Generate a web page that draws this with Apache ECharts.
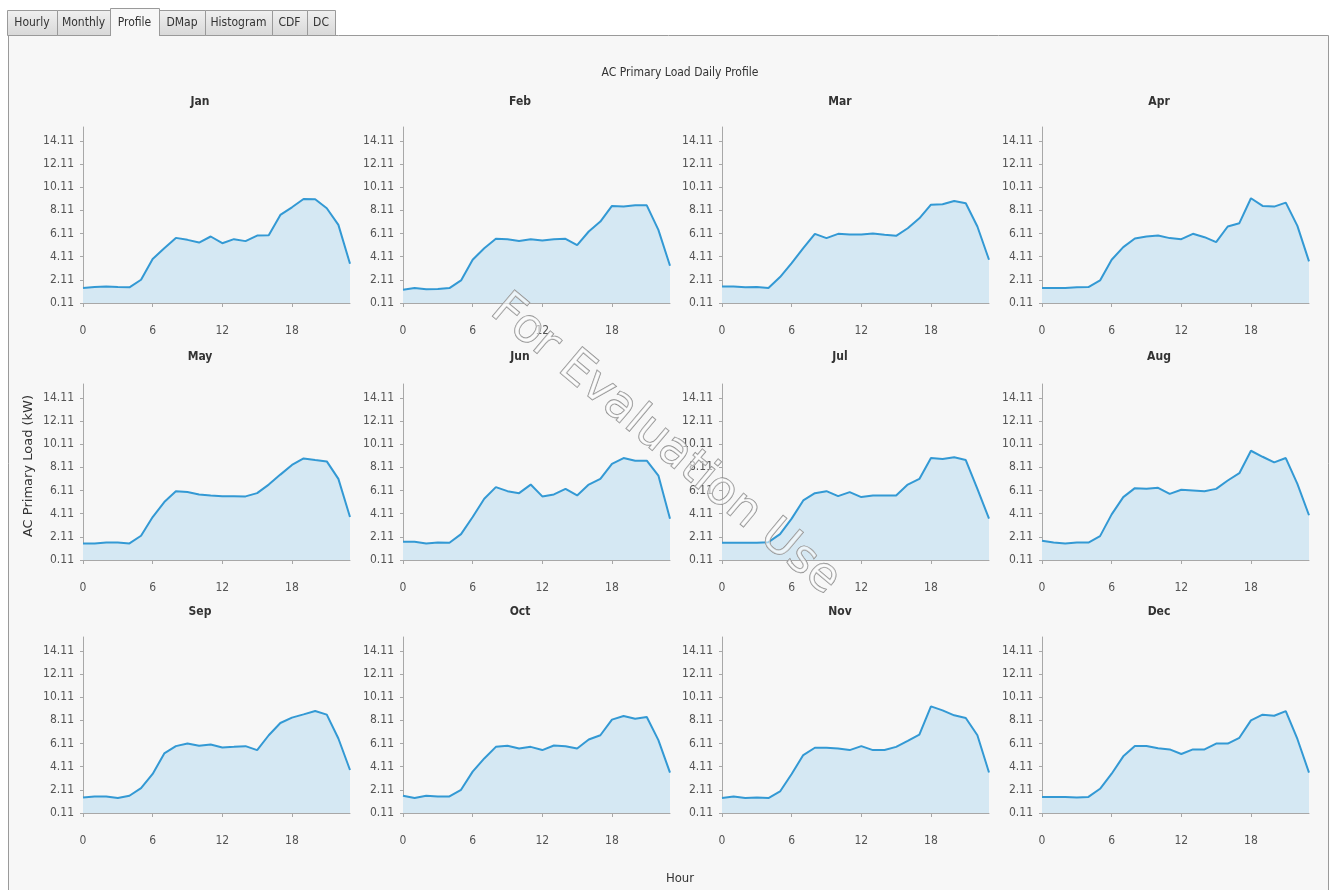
<!DOCTYPE html>
<html>
<head>
<meta charset="utf-8">
<script src="https://cdn.jsdelivr.net/npm/echarts@6/dist/echarts.min.js"></script>
<style>
  html, body { margin: 0; padding: 0; background: #fff; }
  #chart { width: 1331px; height: 890px; }
</style>
</head>
<body>
<div id="chart"></div>
<script>
// hourly profiles (kW)
const months = ['Jan', 'Feb', 'Mar', 'Apr', 'May', 'Jun', 'Jul', 'Aug', 'Sep', 'Oct', 'Nov', 'Dec'];
const hours = [0, 1, 2, 3, 4, 5, 6, 7, 8, 9, 10, 11, 12, 13, 14, 15, 16, 17, 18, 19, 20, 21, 22, 23];
const jan = [1.40, 1.49, 1.54, 1.49, 1.46, 2.12, 3.90, 4.84, 5.73, 5.56, 5.33, 5.85, 5.27, 5.62, 5.45, 5.93, 5.96, 7.71, 8.37, 9.09, 9.06, 8.29, 6.85, 3.50];
const feb = [1.26, 1.40, 1.29, 1.31, 1.40, 2.06, 3.84, 4.84, 5.65, 5.62, 5.47, 5.62, 5.50, 5.62, 5.65, 5.10, 6.28, 7.14, 8.49, 8.43, 8.54, 8.54, 6.42, 3.32];
const mar = [1.54, 1.54, 1.46, 1.49, 1.40, 2.35, 3.55, 4.84, 6.08, 5.71, 6.08, 6.02, 6.02, 6.11, 6.00, 5.91, 6.56, 7.42, 8.60, 8.63, 8.92, 8.72, 6.71, 3.84];
const apr = [1.40, 1.40, 1.40, 1.46, 1.49, 2.06, 3.84, 4.93, 5.68, 5.85, 5.93, 5.71, 5.62, 6.08, 5.79, 5.36, 6.71, 7.00, 9.15, 8.49, 8.43, 8.77, 6.77, 3.70];
const may = [1.54, 1.54, 1.62, 1.62, 1.54, 2.20, 3.82, 5.11, 6.05, 5.97, 5.77, 5.68, 5.62, 5.62, 5.60, 5.88, 6.62, 7.48, 8.31, 8.88, 8.74, 8.62, 7.11, 3.82];
const jun = [1.68, 1.68, 1.54, 1.62, 1.60, 2.34, 3.82, 5.40, 6.40, 6.05, 5.88, 6.62, 5.60, 5.77, 6.25, 5.68, 6.62, 7.11, 8.40, 8.91, 8.68, 8.68, 7.40, 3.68];
const jul = [1.60, 1.60, 1.60, 1.60, 1.65, 2.34, 3.68, 5.25, 5.88, 6.05, 5.62, 5.97, 5.54, 5.68, 5.68, 5.68, 6.62, 7.11, 8.91, 8.82, 8.97, 8.74, 6.25, 3.68];
const aug = [1.77, 1.62, 1.54, 1.62, 1.62, 2.17, 4.05, 5.54, 6.31, 6.25, 6.34, 5.82, 6.17, 6.11, 6.05, 6.25, 6.97, 7.60, 9.54, 9.02, 8.54, 8.91, 6.68, 3.97];
const sep = [1.45, 1.54, 1.54, 1.40, 1.60, 2.25, 3.48, 5.25, 5.88, 6.11, 5.91, 6.02, 5.77, 5.82, 5.88, 5.54, 6.82, 7.88, 8.34, 8.62, 8.91, 8.60, 6.54, 3.82];
const oct = [1.60, 1.40, 1.60, 1.54, 1.54, 2.11, 3.68, 4.82, 5.82, 5.91, 5.68, 5.82, 5.54, 5.94, 5.88, 5.68, 6.45, 6.82, 8.17, 8.48, 8.25, 8.40, 6.40, 3.60];
const nov = [1.40, 1.54, 1.40, 1.45, 1.40, 1.97, 3.48, 5.11, 5.74, 5.74, 5.68, 5.54, 5.88, 5.54, 5.54, 5.82, 6.34, 6.88, 9.31, 8.97, 8.54, 8.31, 6.82, 3.60];
const dec = [1.50, 1.50, 1.50, 1.45, 1.50, 2.20, 3.50, 5.00, 5.90, 5.90, 5.70, 5.60, 5.20, 5.60, 5.60, 6.10, 6.10, 6.60, 8.10, 8.60, 8.50, 8.90, 6.50, 3.60];
const profiles = [jan, feb, mar, apr, may, jun, jul, aug, sep, oct, nov, dec];
const yTicks = [0.11, 2.11, 4.11, 6.11, 8.11, 10.11, 12.11, 14.11];
const xTicks = [0, 6, 12, 18];
const tabs = ['Hourly', 'Monthly', 'Profile', 'DMap', 'Histogram', 'CDF', 'DC'];

const dom = document.getElementById('chart');
const myChart = echarts.init(dom, null, { renderer: 'canvas' });

const labelFont = "'Liberation Sans Narrow', 'DejaVu Sans Condensed', sans-serif";
const colLeft = [83, 403, 722, 1042];
const rowTop = [127, 384, 637];
const titleX = [200, 520, 840, 1159];
const titleY = [102, 357, 612];

let grids = [], xAxes = [], yAxes = [], series = [], graphics = [];

// panel frame + tabs
graphics.push({
    type: 'rect', z: 0, silent: true,
    shape: { x: 8.5, y: 35.5, width: 1320, height: 870 },
    style: { fill: '#f7f7f7', stroke: '#9a9a9a', lineWidth: 1 }
});
const tabEdges = [7, 57, 110, 159, 205, 272, 307, 335];
tabs.forEach((t, i) => {
    const sel = t === 'Profile';
    graphics.push({
        type: 'rect', z: 1, silent: true,
        shape: { x: tabEdges[i] + 0.5, y: sel ? 8.5 : 10.5, width: tabEdges[i + 1] - tabEdges[i], height: sel ? 28 : 25 },
        style: sel ? { fill: '#f7f7f7', stroke: '#f7f7f7' } : {
            fill: new echarts.graphic.LinearGradient(0, 0, 0, 1, [
                { offset: 0, color: '#f0f0f0' },
                { offset: 1, color: '#d8d8d8' }
            ]),
            stroke: '#9a9a9a', lineWidth: 1
        }
    });
    graphics.push({
        type: 'text', z: 2, silent: true,
        x: (tabEdges[i] + tabEdges[i + 1]) / 2, y: 23,
        style: { text: t, fill: '#333', font: '12px ' + labelFont, align: 'center', verticalAlign: 'middle' }
    });
});
// redraw the edges of the selected tab
graphics.push({
    type: 'polyline', z: 3, silent: true,
    shape: { points: [[110.5, 36], [110.5, 8.5], [159.5, 8.5], [159.5, 36]] },
    style: { stroke: '#9a9a9a', fill: null, lineWidth: 1 }
});

profiles.forEach((vals, i) => {
    const r = Math.floor(i / 4), c = i % 4;
    grids.push({ left: colLeft[c], top: rowTop[r], width: 267, height: 176 });
    xAxes.push({
        type: 'value', gridIndex: i, min: 0, max: 23,
        splitLine: { show: false },
        axisLine: { lineStyle: { color: '#a8a8a8' } },
        axisTick: { length: 4, lineStyle: { color: '#a8a8a8' }, customValues: xTicks },
        axisLabel: { customValues: xTicks, margin: 22, color: '#555', fontSize: 12, fontFamily: labelFont }
    });
    yAxes.push({
        type: 'value', gridIndex: i, min: 0.11, max: 15.3,
        splitLine: { show: false },
        axisLine: { show: true, lineStyle: { color: '#a8a8a8' } },
        axisTick: { show: true, length: 3, lineStyle: { color: '#a8a8a8' }, customValues: yTicks },
        axisLabel: {
            customValues: yTicks, margin: 9, color: '#555', fontSize: 12, fontFamily: labelFont,
            formatter: v => v.toFixed(2)
        }
    });
    series.push({
        type: 'line', xAxisIndex: i, yAxisIndex: i,
        data: hours.map((h, k) => [h, vals[k]]),
        showSymbol: false,
        lineStyle: { color: '#3399d4', width: 2 },
        itemStyle: { color: '#3399d4' },
        areaStyle: { color: '#d5e8f3', opacity: 1 }
    });
    graphics.push({
        type: 'text', z: 5, silent: true,
        x: titleX[c], y: titleY[r],
        style: { text: months[i], fill: '#333', font: '600 12px ' + labelFont, align: 'center', verticalAlign: 'middle' }
    });
});

graphics.push({
    type: 'text', z: 5, silent: true, x: 680, y: 73,
    style: { text: 'AC Primary Load Daily Profile', fill: '#333', font: '12px ' + labelFont, align: 'center', verticalAlign: 'middle' }
});
graphics.push({
    type: 'text', z: 5, silent: true, x: 680, y: 879,
    style: { text: 'Hour', fill: '#333', font: '13px ' + labelFont, align: 'center', verticalAlign: 'middle' }
});
graphics.push({
    type: 'text', z: 5, silent: true, x: 29, y: 466, rotation: Math.PI / 2,
    style: { text: 'AC Primary Load (kW)', fill: '#333', font: '13px "DejaVu Sans", sans-serif', align: 'center', verticalAlign: 'middle' }
});
// watermark
graphics.push({
    type: 'text', z: 100, silent: true, x: 665, y: 445, rotation: -40 * Math.PI / 180,
    style: {
        text: 'For Evaluation Use', font: '47px "DejaVu Sans", sans-serif',
        fill: 'rgba(255,255,255,0.55)', stroke: '#8a8a8a', lineWidth: 1.2,
        align: 'center', verticalAlign: 'middle'
    }
});

const option = {
    backgroundColor: '#ffffff',
    animation: false,
    grid: grids,
    xAxis: xAxes,
    yAxis: yAxes,
    series: series,
    graphic: graphics
};
myChart.setOption(option);

window.addEventListener('resize', () => {
    setTimeout(() => {
        myChart.resize();
    }, 10);
});
</script>
</body>
</html>
